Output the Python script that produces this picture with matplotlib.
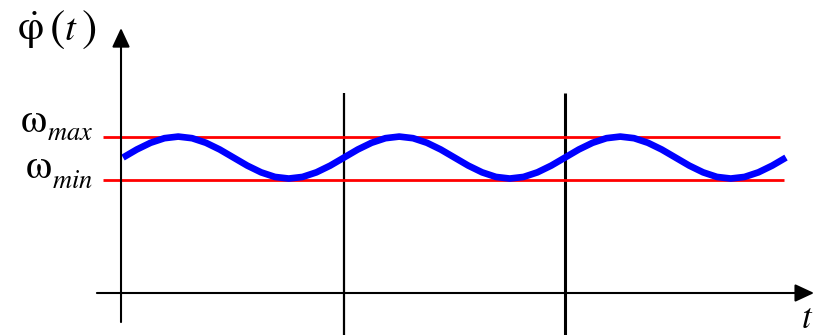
import numpy as np
import matplotlib
matplotlib.use("Agg")
import matplotlib.pyplot as plt

plt.rcParams['mathtext.fontset'] = 'stix'

W, H = 816, 335

# values (t in periods, omega in arbitrary units)
t_marks = [1.0, 2.0]
omega_max = 1.16
omega_min = 0.84
omega_dot = [1.007, 1.067, 1.117, 1.151, 1.163, 1.151, 1.117, 1.067,
             1.007, 0.947, 0.897, 0.863, 0.851, 0.863, 0.897, 0.947,
             1.007, 1.067, 1.117, 1.151, 1.163, 1.151, 1.117, 1.067,
             1.007, 0.947, 0.897, 0.863, 0.851, 0.863, 0.897, 0.947,
             1.007, 1.067, 1.117, 1.151, 1.163, 1.151, 1.117, 1.067,
             1.007, 0.947, 0.897, 0.863, 0.851, 0.863, 0.897, 0.947,
             1.007]
t_curve = np.linspace(0, 3, len(omega_dot))

fig = plt.figure(figsize=(W / 100, H / 100), dpi=100)
ax = fig.add_axes([0, 0, 1, 1])
ax.set_xlim(-123 / 221, (W - 123) / 221)
ax.set_ylim(-42 / 134.5, 293 / 134.5)
ax.axis("off")

# axes with arrows
arrow = dict(arrowstyle="-|>,head_length=0.58,head_width=0.27", color="black",
             lw=1.5, shrinkA=0, shrinkB=0, mutation_scale=20)
ax.annotate("", xy=(3.127, 0), xytext=(-0.118, 0), arrowprops=arrow)
ax.annotate("", xy=(-0.009, 1.97), xytext=(-0.009, -0.216), arrowprops=arrow)

# period markers
ax.vlines(t_marks, -0.33, 1.487, colors="black", lw=[1.6, 2.2])

# limits
ax.hlines(omega_max, -0.09, 2.973, colors="#ff0000", lw=2)
ax.hlines(omega_min, -0.09, 2.991, colors="#ff0000", lw=2)

ax.plot(t_curve, omega_dot, color="#0000ff", lw=4.8, solid_capstyle="butt")


def px(x, y):
    return x / W, 1 - y / H


fig.text(*px(17, 40), r"$\dot{\mathrm{\varphi}}$", fontsize=30, va="baseline")
fig.text(*px(49, 41), r"$\mathrm{(}$", fontsize=33, va="baseline")
fig.text(*px(64, 40), r"$t$", fontsize=28, va="baseline")
fig.text(*px(81, 41), r"$\mathrm{)}$", fontsize=33, va="baseline")

fig.text(*px(20, 132), r"$\mathrm{\omega}$", fontsize=30, va="baseline")
fig.text(*px(47, 140), r"$max$", fontsize=19, va="baseline")
fig.text(*px(25, 178), r"$\mathrm{\omega}$", fontsize=30, va="baseline")
fig.text(*px(52, 188), r"$min$", fontsize=19, va="baseline")

fig.text(*px(801, 328), r"$t$", fontsize=25, va="baseline")

fig.savefig("out.png", dpi=100)
